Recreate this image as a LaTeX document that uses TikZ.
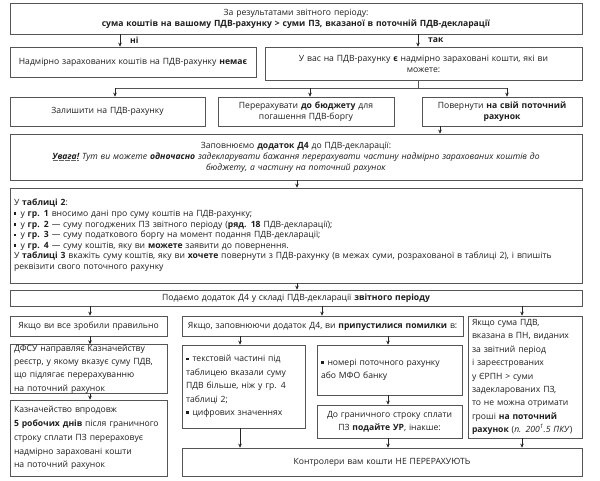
\documentclass[tikz,border=0pt]{standalone}
\usepackage{fontspec}
\setmainfont{Open Sans}
\usetikzlibrary{arrows.meta}
\definecolor{ln}{HTML}{555555}
\definecolor{tx}{HTML}{1E1E1E}
\newcommand\sq{\rule[1.6pt]{2.5pt}{2.5pt}\hspace{4pt}}
\newsavebox\myulbox
\newcommand\dotul[1]{\sbox\myulbox{#1}\rlap{\raisebox{-1.8pt}{\color{black!60}\hbox to \wd\myulbox{\leaders\hbox to 1.2pt{\hss\rule{0.6pt}{0.5pt}\hss}\hfill}}}\usebox\myulbox}
\newcommand\mybox[7]{\node[bx,#6,minimum width={(#4-#2)*1pt},minimum height={(#5-#3)*1pt},text width={(#4-#2-8)*1pt}] (#1) at ({(#2+#4)/2},{(#3+#5)/2}) {#7};}
\begin{document}
\begin{tikzpicture}[x=1pt,y=-1pt,
  bx/.style={draw=ln, line width=0.7pt, inner sep=0pt, text=tx, font=\fontsize{8.6}{11}\selectfont},
  ar/.style={-{Stealth[length=4pt,width=3.6pt]}, draw=black!85, line width=0.6pt},
  cn/.style={draw=ln, line width=0.7pt},
  lb/.style={font=\fontsize{8.6}{11}\selectfont\bfseries, text=tx, inner sep=0pt}]
\useasboundingbox (0,0) rectangle (600,480);
% x positions
\coordinate (xni) at (120,0);
\coordinate (xtak) at (418,0);
\coordinate (xl) at (115,0);
\coordinate (xm) at (310,0);
\coordinate (xr) at (507,0);
\coordinate (xc) at (440,0);
\coordinate (xmid) at (297,0);
\coordinate (xa) at (90,0);
\coordinate (xb) at (322,0);
\coordinate (xe) at (522,0);
\coordinate (xt) at (240,0);
\coordinate (xn) at (388,0);
\coordinate (hb) at (0,88);
% boxes
\mybox{top}{10}{3}{582}{34}{align=center}{За результатами звітного періоду:\\ \textbf{сума коштів на вашому ПДВ-рахунку > суми ПЗ, вказаної в поточній ПДВ-декларації}}
\mybox{no}{10}{47}{256}{77}{align=center}{Надмірно зарахованих коштів на ПДВ-рахунку \textbf{немає}}
\mybox{yes}{265}{47}{582}{80}{align=center}{У вас на ПДВ-рахунку \textbf{є} надмірно зараховані кошти, які ви\\ можете:}
\mybox{keep}{10}{97}{205}{126}{align=center}{Залишити на ПДВ-рахунку}
\mybox{budget}{218}{97}{394}{126}{align=center}{Перерахувати \textbf{до бюджету} для\\ погашення ПДВ-боргу}
\mybox{ret}{422}{97}{582}{126}{align=center}{Повернути \textbf{на свій поточний}\\ \textbf{рахунок}}
\mybox{fill}{10}{134}{582}{180}{align=center}{Заповнюємо \textbf{додаток Д4} до ПДВ-декларації:\\ \textit{\textbf{\dotul{Увага!}} Тут ви можете \textbf{одночасно} задекларувати бажання перерахувати частину надмірно зарахованих коштів до}\\ \textit{бюджету, а частину на поточний рахунок}}
\mybox{tab}{10}{188}{582}{283}{align=left, font=\fontsize{8.6}{10.6}\selectfont}{У \textbf{таблиці 2}:\\
\sq у \textbf{гр. 1} вносимо дані про суму коштів на ПДВ-рахунку;\\
\sq у \textbf{гр. 2} — суму погоджених ПЗ звітного періоду (\textbf{ряд. 18} ПДВ-декларації);\\
\sq у \textbf{гр. 3} — суму податкового боргу на момент подання ПДВ-декларації;\\
\sq у \textbf{гр. 4} — суму коштів, яку ви \textbf{можете} заявити до повернення.\\
У \textbf{таблиці 3} вкажіть суму коштів, яку ви \textbf{хочете} повернути з ПДВ-рахунку (в межах суми, розрахованої в таблиці 2), і впишіть\\
реквізити свого поточного рахунку}
\mybox{sub}{10}{290}{582}{306}{align=center}{Подаємо додаток Д4 у складі ПДВ-декларації \textbf{звітного періоду}}
\mybox{ok}{10}{316}{167}{336}{align=center}{Якщо ви все зробили правильно}
\mybox{err}{182}{316}{463}{336}{align=center}{Якщо, заповнюючи додаток Д4, ви \textbf{припустилися помилки} в:}
\mybox{pn}{468}{316}{582}{438}{align=left, font=\fontsize{8.6}{13.4}\selectfont}{Якщо сума ПДВ,\\ вказана в ПН, виданих\\ за звітний період\\ і зареєстрованих\\ у ЄРПН > суми\\ задекларованих ПЗ,\\ то не можна отримати\\ гроші \textbf{на поточний}\\ \textbf{рахунок} (\textit{п. 200\textsuperscript{1}.5 ПКУ})}
\mybox{dfs}{10}{345}{167}{393}{align=left, font=\fontsize{8.6}{13.4}\selectfont}{ДФСУ направляє Казначейству\\ реєстр, у якому вказує суму ПДВ,\\ що підлягає перерахуванню\\ на поточний рахунок}
\mybox{kaz}{10}{400}{167}{476}{align=left, font=\fontsize{8.6}{13.8}\selectfont}{Казначейство впродовж\\ \textbf{5 робочих днів} після граничного\\ строку сплати ПЗ перераховує\\ надмірно зараховані кошти\\ на поточний рахунок}
\mybox{txt}{182}{345}{305}{428}{align=left, font=\fontsize{8.6}{13.4}\selectfont}{\sq текстовій частині під\\ таблицею вказали суму\\ ПДВ більше, ніж у гр. 4\\ таблиці 2;\\ \sq цифрових значеннях}
\mybox{acc}{317}{345}{462}{395}{align=left, font=\fontsize{8.6}{13.4}\selectfont}{\sq номері поточного рахунку\\ або МФО банку}
\mybox{dl}{317}{405}{462}{438}{align=center, font=\fontsize{8.6}{13.4}\selectfont}{До граничного строку сплати\\ ПЗ \textbf{подайте УР}, інакше:}
\mybox{ctl}{182}{448}{582}{476}{align=center}{Контролери вам кошти НЕ ПЕРЕРАХУЮТЬ}
% labels
\node[lb, anchor=west] (lni) at (130,40) {ні};
\node[lb, anchor=west] (ltak) at (428,40) {так};
% connectors
\draw[ar] (top.south -| xni) -- (no.north -| xni);
\draw[ar] (top.south -| xtak) -- (yes.north -| xtak);
\draw[cn] (yes.south -| xtak) -- (hb -| xtak);
\draw[cn] (hb -| xl) -- (hb -| xr);
\draw[ar] (hb -| xl) -- (keep.north -| xl);
\draw[ar] (hb -| xm) -- (budget.north -| xm);
\draw[ar] (hb -| xr) -- (ret.north -| xr);
\draw[ar] (ret.south -| xc) -- (fill.north -| xc);
\draw[ar] (fill.south -| xmid) -- (tab.north -| xmid);
\draw[ar] (tab.south -| xmid) -- (sub.north -| xmid);
\draw[ar] (sub.south -| xa) -- (ok.north -| xa);
\draw[ar] (sub.south -| xb) -- (err.north -| xb);
\draw[ar] (sub.south -| xe) -- (pn.north -| xe);
\draw[ar] (ok.south -| xa) -- (dfs.north -| xa);
\draw[ar] (dfs.south -| xa) -- (kaz.north -| xa);
\draw[ar] (err.south -| xt) -- (txt.north -| xt);
\draw[ar] (err.south -| xn) -- (acc.north -| xn);
\draw[ar] (acc.south -| xn) -- (dl.north -| xn);
\draw[ar] (txt.south -| xt) -- (ctl.north -| xt);
\draw[ar] (dl.south -| xn) -- (ctl.north -| xn);
\draw[ar] (pn.south -| xe) -- (ctl.north -| xe);
\end{tikzpicture}
\end{document}
